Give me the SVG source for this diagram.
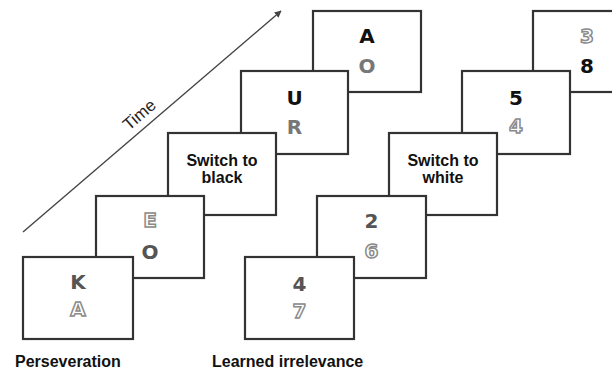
<svg xmlns="http://www.w3.org/2000/svg" width="612" height="371" viewBox="0 0 612 371">
<defs>
<style>
.box{fill:#fff;stroke:#333;stroke-width:2.2}
.ch{font-family:"DejaVu Sans","Liberation Sans",sans-serif;font-weight:bold;font-size:20px;text-anchor:middle}
.blk{fill:#111}
.dk{fill:#555}
.gr{fill:#777}
.ol{fill:#fff;stroke:#8a8a8a;stroke-width:1.5}
.sw{font-family:"Liberation Sans",Arial,sans-serif;font-weight:bold;font-size:16px;text-anchor:middle;fill:#111}
.lbl{font-family:"Liberation Sans",Arial,sans-serif;font-weight:bold;font-size:16px;fill:#111}
</style>
<marker id="ah" viewBox="0 0 10 10" refX="9" refY="5" markerWidth="7" markerHeight="7" orient="auto" markerUnits="userSpaceOnUse">
<path d="M0,0 L10,5 L0,10 z" fill="#444"/>
</marker>
</defs>
<rect width="612" height="371" fill="#fff"/>
<g id="connectors">
<line x1="23" y1="232" x2="281" y2="11" stroke="#444" stroke-width="1.4" marker-end="url(#ah)"/>
</g>
<text x="143" y="119" transform="rotate(-40.7 143 119)" font-family="'Liberation Sans',Arial,sans-serif" font-size="17" text-anchor="middle" fill="#222">Time</text>
<g id="p5"><rect class="box" x="313" y="11" width="108" height="81"/><text class="ch blk" x="367" y="43">A</text><text class="ch gr" x="367" y="73">O</text></g>
<g id="p4"><rect class="box" x="241" y="71" width="107" height="83"/><text class="ch blk" x="294.5" y="105">U</text><text class="ch gr" x="294.5" y="134">R</text></g>
<g id="p3"><rect class="box" x="168" y="133" width="108" height="82"/><text class="sw" x="222" y="166">Switch to</text><text class="sw" x="222" y="183">black</text></g>
<g id="p2"><rect class="box" x="96" y="196" width="108" height="82"/><text class="ch ol" x="150" y="227">E</text><text class="ch dk" x="150" y="259">O</text></g>
<g id="p1"><rect class="box" x="23" y="257" width="110" height="82"/><text class="ch dk" x="78" y="289">K</text><text class="ch ol" x="78" y="316">A</text></g>
<g id="n5"><rect class="box" x="533" y="11" width="108" height="81"/><text class="ch ol" x="587" y="43">3</text><text class="ch blk" x="587" y="73">8</text></g>
<g id="n4"><rect class="box" x="462" y="71" width="108" height="83"/><text class="ch blk" x="516" y="105">5</text><text class="ch ol" x="516" y="133">4</text></g>
<g id="n3"><rect class="box" x="389" y="133" width="108" height="82"/><text class="sw" x="443" y="166">Switch to</text><text class="sw" x="443" y="183">white</text></g>
<g id="n2"><rect class="box" x="317" y="196" width="109" height="82"/><text class="ch dk" x="371.5" y="228">2</text><text class="ch ol" x="371.5" y="258">6</text></g>
<g id="n1"><rect class="box" x="245" y="257" width="109" height="82"/><text class="ch dk" x="299.5" y="291">4</text><text class="ch ol" x="299.5" y="318">7</text></g>
<text class="lbl" x="15" y="367">Perseveration</text>
<text class="lbl" x="212" y="367">Learned irrelevance</text>
</svg>
